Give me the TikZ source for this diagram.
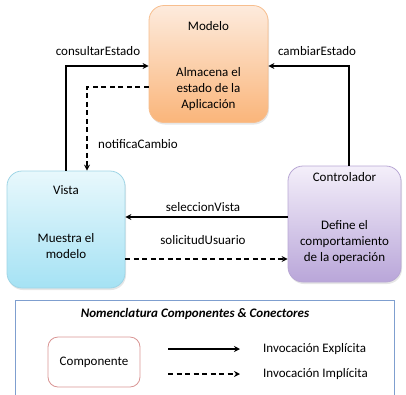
\documentclass[tikz,border=0pt]{standalone}
\usepackage{fontspec}
\setmainfont{Carlito}
\usetikzlibrary{arrows.meta,calc,shadows}
\definecolor{modtop}{HTML}{FDEBDD}
\definecolor{modbot}{HTML}{FAB57A}
\definecolor{modline}{HTML}{F7BE8E}
\definecolor{vistop}{HTML}{E8F8FC}
\definecolor{visbot}{HTML}{A5E2F4}
\definecolor{visline}{HTML}{9FD5E6}
\definecolor{contop}{HTML}{F4EFFA}
\definecolor{conbot}{HTML}{B9A6D9}
\definecolor{conline}{HTML}{B8A7D4}
\definecolor{legline}{HTML}{7F9FCF}
\definecolor{compline}{HTML}{D99594}
\tikzset{
  comp/.style={rounded corners=15pt, draw=#1, line width=0.8pt,
    drop shadow={opacity=0.2, shadow xshift=1pt, shadow yshift=-2pt}},
  txt/.style={font=\fontsize{13}{16}\selectfont, align=center, inner sep=0pt},
  arr/.style={line width=1.5pt, -{Stealth[length=6pt,width=6pt,inset=2pt]}},
  darr/.style={arr, dash pattern=on 5pt off 3.5pt},
}
\begin{document}
\begin{tikzpicture}[x=1pt,y=-1pt]
\useasboundingbox (0,0) rectangle (406,394);
% boxes
\node[comp=modline, top color=modtop, bottom color=modbot, minimum width=119pt, minimum height=117pt] (modelo) at (208.5,64) {};
\node[comp=visline, top color=vistop, bottom color=visbot, minimum width=118pt, minimum height=117pt] (vista) at (66,229.5) {};
\node[comp=conline, top color=contop, bottom color=conbot, minimum width=113pt, minimum height=116pt] (ctrl) at (344.5,224) {};
% box texts
\node[txt] (modT) at (208.5,26) {Modelo};
\node[txt] (modB) at (208.5,89) {Almacena el\\estado de la\\Aplicación};
\node[txt] (visT) at (66,190) {Vista};
\node[txt] (visB) at (66,246) {Muestra el\\modelo};
\node[txt] (conT) at (344.5,177) {Controlador};
\node[txt] (conB) at (344.5,242) {Define el\\comportamiento\\de la operación};
% connectors
\draw[arr] (vista.north) |- ($(modelo.west)+(0,2)$);
\draw[darr] ($(modelo.west)+(0,23)$) -| ($(vista.north)+(21,0)$);
\draw[arr] ($(ctrl.north)+(4.5,0)$) |- ($(modelo.east)+(0,2)$);
\coordinate (selS) at ($(ctrl.west)+(0,-7)$);
\draw[arr] (selS) -- (selS -| vista.east);
\coordinate (solS) at ($(vista.east)+(0,29.5)$);
\draw[darr] (solS) -- (solS -| ctrl.west);
% labels
\node[txt] (l1) at (98,51) {consultarEstado};
\node[txt] (l2) at (317,51) {cambiarEstado};
\node[txt] (l3) at (138,144) {notificaCambio};
\node[txt] (l4) at (203,207) {seleccionVista};
\node[txt] (l5) at (203,240) {solicitudUsuario};
% legend
\draw[legline, line width=0.8pt] (15,400) |- (394,300) -- (394,400);
\node[txt, font=\fontsize{13}{16}\selectfont\bfseries\itshape] (legT) at (195,314) {Nomenclatura Componentes \& Conectores};
\node[draw=compline, rounded corners=10pt, line width=0.8pt, fill=white, minimum width=92pt, minimum height=50pt] (compbox) at (94,362) {};
\node[txt] (compT) at (94,362) {Componente};
\coordinate (e1) at (168,349);
\coordinate (e2) at (240,349);
\coordinate (i1) at (168,374);
\coordinate (i2) at (240,374);
\draw[arr] (e1) -- (e2);
\draw[darr] (i1) -- (i2);
\node[txt, anchor=west] (expl) at (263,349) {Invocación Explícita};
\node[txt, anchor=west] (impl) at (263,374) {Invocación Implícita};
\end{tikzpicture}
\end{document}
